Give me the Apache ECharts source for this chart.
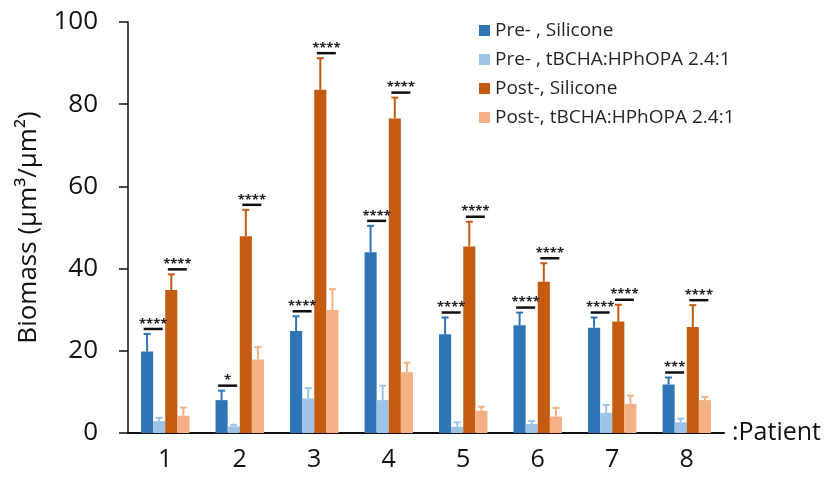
<!DOCTYPE html>
<html>
<head>
<meta charset="utf-8">
<script src="https://cdn.jsdelivr.net/npm/echarts@6/dist/echarts.min.js"></script>
<style>
html, body { margin: 0; padding: 0; background: #fff; }
#chart { width: 828px; height: 477px; }
</style>
</head>
<body>
<div id="chart"></div>
<script>
let patients = ['1', '2', '3', '4', '5', '6', '7', '8'];
let yTicks = [0, 20, 40, 60, 80, 100];

let names = ['Pre- , Silicone', 'Pre- , tBCHA:HPhOPA 2.4:1', 'Post-, Silicone', 'Post-, tBCHA:HPhOPA 2.4:1'];
let colors = ['#2E75B6', '#9DC3E6', '#C55A11', '#F4B183'];

// means
let preSilicone = [19.8, 8.0, 24.8, 44.0, 24.0, 26.2, 25.6, 11.8];
let preTbcha = [2.9, 1.6, 8.4, 8.0, 1.5, 2.2, 4.9, 2.6];
let postSilicone = [34.8, 47.9, 83.5, 76.5, 45.4, 36.8, 27.1, 25.8];
let postTbcha = [4.2, 17.9, 29.9, 14.8, 5.4, 4.0, 7.1, 8.0];

// error bars (upper only)
let preSiliconeErr = [4.3, 2.3, 3.6, 6.4, 4.1, 3.1, 2.5, 1.7];
let preTbchaErr = [0.8, 0.4, 2.5, 3.5, 1.1, 0.7, 1.9, 0.9];
let postSiliconeErr = [3.8, 6.4, 7.7, 5.1, 6.0, 4.5, 4.1, 5.3];
let postTbchaErr = [2.0, 3.0, 5.1, 2.3, 1.0, 2.1, 2.0, 0.8];

// significance marks
let preSig = ['****', '*', '****', '****', '****', '****', '****', '***'];
let postSig = ['****', '****', '****', '****', '****', '****', '****', '****'];

let means = [preSilicone, preTbcha, postSilicone, postTbcha];
let errs = [preSiliconeErr, preTbchaErr, postSiliconeErr, postTbchaErr];

const FONT = 'Open Sans';
const GAP = 0.35;

let myChart = echarts.init(document.getElementById('chart'));

function barCenter(api, idx, k) {
	let x = api.coord([idx, 0])[0];
	let band = api.size([1, 0])[0];
	let w = band * (1 - GAP) / 4;
	return { x: x + (k - 1.5) * w, w: w };
}

function errorRender(k, color) {
	return function (params, api) {
		let idx = api.value(0);
		let c = barCenter(api, idx, k);
		let y0 = api.coord([idx, api.value(1)])[1];
		let y1 = api.coord([idx, api.value(1) + api.value(2)])[1];
		let st = { stroke: color, lineWidth: 2 };
		return {
			type: 'group',
			children: [
				{ type: 'line', shape: { x1: c.x, y1: y0, x2: c.x, y2: y1 }, style: st },
				{ type: 'line', shape: { x1: c.x - 3.5, y1: y1, x2: c.x + 3.5, y2: y1 }, style: st }
			]
		};
	};
}

function sigRender(params, api) {
	let idx = api.value(0);
	let k = api.value(3);
	let c = barCenter(api, idx, k);
	let y = api.coord([idx, api.value(1)])[1] - 5;
	let label = params.dataIndex < 8 ? preSig[params.dataIndex] : postSig[params.dataIndex - 8];
	return {
		type: 'group',
		children: [
			{ type: 'line', shape: { x1: c.x - 9.5, y1: y, x2: c.x + 9.5, y2: y }, style: { stroke: '#111', lineWidth: 2.5 } },
			{ type: 'text', x: c.x, y: y - 5, style: { text: label, fill: '#222', font: 'bold 13px ' + FONT, align: 'center', verticalAlign: 'middle' } }
		]
	};
}

let series = [];
names.forEach((name, k) => {
	series.push({
		name: name,
		type: 'bar',
		data: means[k],
		barGap: '0%',
		barCategoryGap: (GAP * 100) + '%',
		itemStyle: { color: colors[k] }
	});
});
names.forEach((name, k) => {
	series.push({
		type: 'custom',
		renderItem: errorRender(k, colors[k]),
		data: means[k].map((v, i) => [i, v, errs[k][i]]),
		z: 3
	});
});

let sigData = [];
patients.forEach((p, i) => {
	sigData.push([i, Math.max(preSilicone[i] + preSiliconeErr[i], preTbcha[i] + preTbchaErr[i]), 0, 0.5]);
});
patients.forEach((p, i) => {
	sigData.push([i, Math.max(postSilicone[i] + postSiliconeErr[i], postTbcha[i] + postTbchaErr[i]), 0, 2.5]);
});
series.push({
	type: 'custom',
	renderItem: sigRender,
	data: sigData,
	z: 4
});

let option = {
	animation: false,
	backgroundColor: '#fff',
	color: colors,
	grid: { left: 128, right: 104, top: 22, bottom: 44 },
	legend: {
		data: names,
		orient: 'vertical',
		left: 474,
		top: 16,
		itemWidth: 11,
		itemHeight: 11,
		itemGap: 10,
		icon: 'rect',
		textStyle: { fontFamily: FONT, fontSize: 19, color: '#262626' }
	},
	xAxis: {
		type: 'category',
		data: patients,
		name: ':Patient',
		nameLocation: 'end',
		nameGap: 8,
		nameTextStyle: { fontFamily: FONT, fontSize: 25, color: '#111', verticalAlign: 'middle', padding: [54, 0, 0, 0] },
		axisLine: { lineStyle: { color: '#111', width: 2 } },
		axisTick: { show: false },
		axisLabel: { fontFamily: FONT, fontSize: 25, color: '#111', margin: 14 }
	},
	yAxis: {
		type: 'value',
		min: yTicks[0],
		max: yTicks[yTicks.length - 1],
		interval: 20,
		name: 'Biomass (µm³/µm²)',
		nameLocation: 'middle',
		nameRotate: 90,
		nameGap: 86,
		nameTextStyle: { fontFamily: FONT, fontSize: 26, color: '#111' },
		splitLine: { show: false },
		axisLine: { show: true, lineStyle: { color: '#111', width: 1.5 } },
		axisTick: { show: true, inside: false, length: 9, lineStyle: { color: '#111', width: 1.5 } },
		axisLabel: { fontFamily: FONT, fontSize: 26, color: '#111', margin: 30 }
	},
	series: series
};

myChart.setOption(option);
</script>
</body>
</html>
